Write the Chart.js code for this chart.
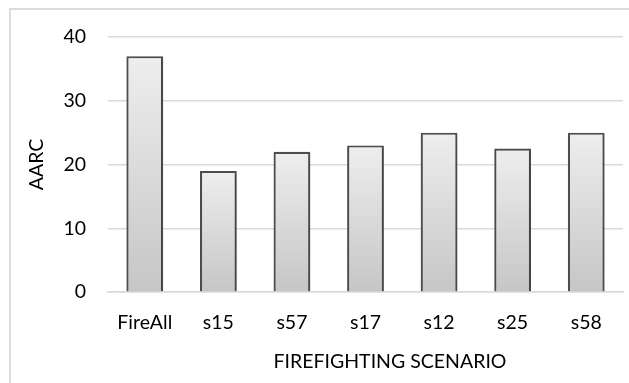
<!DOCTYPE html>
<html>
<head>
<meta charset="utf-8">
<script src="https://cdn.jsdelivr.net/npm/chart.js@4.4.0/dist/chart.umd.min.js"></script>
<style>
  html, body { margin: 0; padding: 0; background: #fff; }
  #wrap { width: 629px; height: 383px; position: relative; }
</style>
</head>
<body>
<div id="wrap"><canvas id="aarcChart"></canvas></div>
<script>
const scenarios = ['FireAll', 's15', 's57', 's17', 's12', 's25', 's58'];
const aarcValues = [37, 19, 22, 23, 25, 22.5, 25];
const yTicks = [0, 10, 20, 30, 40];

const FONT = 'Lato, "Open Sans", sans-serif';

// light frame around the whole chart, plus both axis titles
const framePlugin = {
    id: 'frame',
    beforeDraw(chart) {
        const ctx = chart.ctx;
        ctx.save();
        ctx.strokeStyle = '#dcdcdc';
        ctx.lineWidth = 2;
        ctx.strokeRect(10, 9, chart.width + 20, chart.height + 20);
        ctx.restore();
    },
    afterDraw(chart) {
        const ctx = chart.ctx;
        const area = chart.chartArea;
        ctx.save();
        ctx.fillStyle = '#000';
        ctx.font = '19.5px ' + FONT;
        ctx.textAlign = 'center';
        ctx.textBaseline = 'middle';
        ctx.fillText('FIREFIGHTING SCENARIO', 390, 362);
        ctx.translate(37, (area.top + area.bottom) / 2);
        ctx.rotate(-Math.PI / 2);
        ctx.fillText('AARC', 0, 0);
        ctx.restore();
    }
};

// soft shadow under the bars
const shadowPlugin = {
    id: 'barShadow',
    beforeDatasetsDraw(chart) {
        const ctx = chart.ctx;
        ctx.save();
        ctx.shadowColor = 'rgba(0,0,0,0.22)';
        ctx.shadowBlur = 3;
        ctx.shadowOffsetX = 1;
        ctx.shadowOffsetY = 1;
    },
    afterDatasetsDraw(chart) {
        chart.ctx.restore();
    }
};

function barGradient(context) {
    const chart = context.chart;
    if (!chart.chartArea) return '#dddddd';
    const y = chart.scales.y;
    const top = y.getPixelForValue(context.raw);
    const bottom = y.getPixelForValue(0);
    const g = chart.ctx.createLinearGradient(0, top, 0, bottom);
    g.addColorStop(0, '#eeeeee');
    g.addColorStop(1, '#c6c6c6');
    return g;
}

new Chart(document.getElementById('aarcChart'), {
    type: 'bar',
    data: {
        labels: scenarios,
        datasets: [{
            label: 'AARC',
            data: aarcValues,
            backgroundColor: barGradient,
            borderColor: '#4e4e4e',
            borderWidth: 2.2,
            borderSkipped: 'bottom',
            categoryPercentage: 1,
            barPercentage: 0.5
        }]
    },
    options: {
        responsive: true,
        maintainAspectRatio: false,
        animation: false,
        layout: { padding: { left: 10, right: 6, top: 37, bottom: 0 } },
        plugins: {
            legend: { display: false },
            tooltip: { enabled: false }
        },
        scales: {
            x: {
                grid: { display: false, drawTicks: false },
                border: { display: true, color: '#d9d9d9', width: 1.5 },
                ticks: { color: '#000', padding: 19, font: { family: FONT, size: 19.5 } },
                afterFit(scale) { scale.height = 91; }
            },
            y: {
                min: 0,
                max: 40,
                afterBuildTicks(scale) { scale.ticks = yTicks.map(v => ({ value: v })); },
                grid: { color: '#d9d9d9', lineWidth: 1.5, drawTicks: false },
                border: { display: false },
                ticks: { color: '#000', padding: 22, font: { family: FONT, size: 19.5 } },
                afterFit(scale) { scale.width = 98; }
            }
        }
    },
    plugins: [framePlugin, shadowPlugin]
});
</script>
</body>
</html>
